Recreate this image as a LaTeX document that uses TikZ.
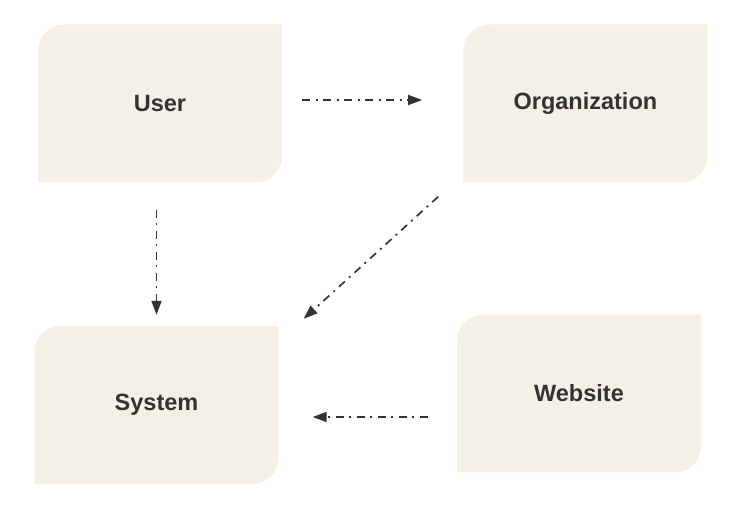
\documentclass[tikz,border=0pt]{standalone}
\usepackage{fontspec}
\setmainfont{Liberation Sans}
\usetikzlibrary{arrows.meta, positioning}
\definecolor{boxfill}{HTML}{F4F0E6}
\definecolor{ink}{HTML}{333333}

\begin{document}
\begin{tikzpicture}[x=1pt, y=1pt,
    entity/.style={minimum width=244pt, minimum height=158pt, inner sep=0pt,
        text=ink, font=\bfseries\fontsize{23.5}{27}\selectfont,
        path picture={\fill[boxfill] (path picture bounding box.north east)
            -- ([yshift=26pt]path picture bounding box.south east)
            arc[start angle=0, end angle=-90, radius=26pt]
            -- (path picture bounding box.south west)
            -- ([yshift=-26pt]path picture bounding box.north west)
            arc[start angle=180, end angle=90, radius=26pt] -- cycle;}},
    flow/.style={->, >={Triangle[length=14pt, width=10pt]}, draw=ink, line width=1.7pt,
        dash pattern=on 8pt off 5.5pt on 2pt off 5.5pt}]
        \useasboundingbox (0,0) rectangle (744,511);

        \node[entity] (U) at (160,407.5) {User};
        \node[entity] (O) [right=181pt of U] {Organization};
        \node[entity] (S) at (156.5,106) {System};
        \node[entity] (W) at (579,117.5) {Website};

        \draw[flow, shorten <=20pt, shorten >=41pt] ([yshift=3.5pt]U.east) -- ([yshift=3.5pt]O.west);
        \draw[flow, shorten <=27pt, shorten >=11pt] (S.north |- U.south) -- (S.north);
        \draw[flow] ([xshift=-25pt, yshift=-14pt]O.south west) -- ([xshift=25pt, yshift=7pt]S.north east);
        \draw[flow, shorten <=29pt, shorten >=34pt] ([yshift=-23.5pt]W.west) -- ([yshift=-12pt]S.east);

        \end{tikzpicture}
\end{document}
